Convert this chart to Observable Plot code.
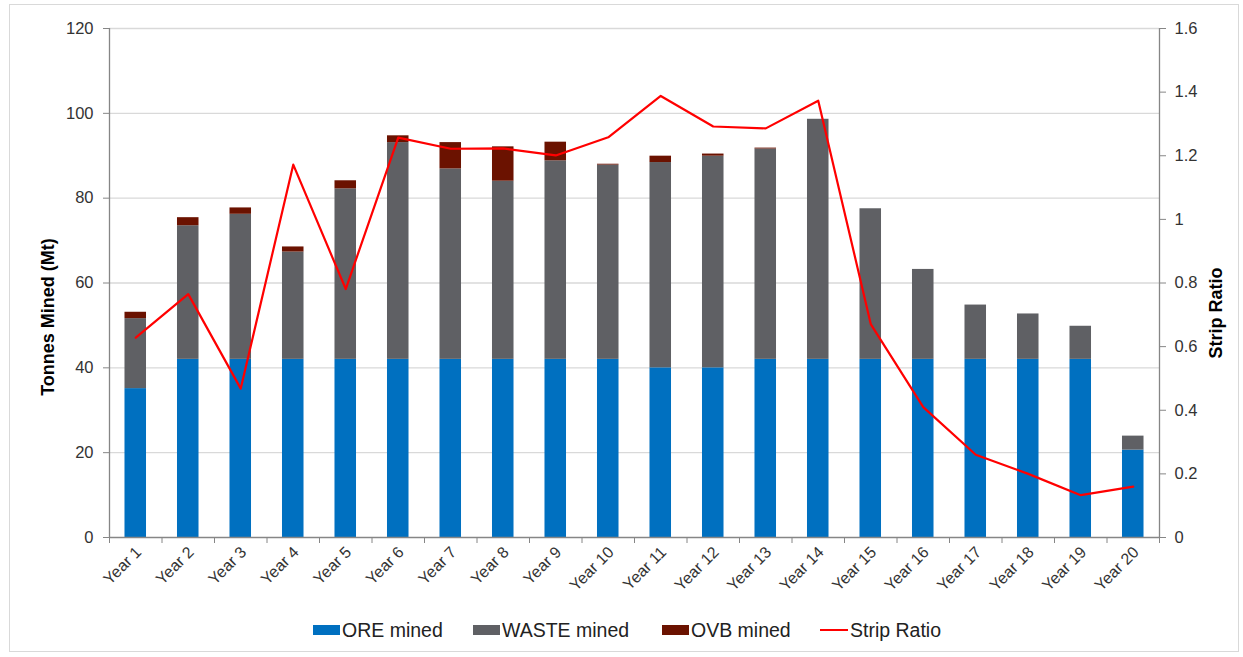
<!DOCTYPE html>
<html>
<head>
<meta charset="utf-8">
<script src="https://cdn.jsdelivr.net/npm/d3@7"></script>
<script src="https://cdn.jsdelivr.net/npm/@observablehq/plot@0.6"></script>
<style>
  html, body { margin: 0; padding: 0; background: #fff; }
  body { font-family: "Liberation Sans", Arial, sans-serif; }
  #wrap { position: relative; width: 1243px; height: 657px; overflow: hidden; }
  #border { position: absolute; left: 9px; top: 4px; width: 1230px; height: 648px; border: 1.5px solid #d9d9d9; box-sizing: border-box; }
  #chart { position: absolute; left: 0; top: 0; }
  .ytitle { position: absolute; font-weight: bold; font-size: 18px; color: #000; white-space: nowrap; transform: translate(-50%, -50%) rotate(-90deg); }
  .leg { position: absolute; top: 619px; font-size: 19.5px; color: #222; white-space: nowrap; display: flex; align-items: center; height: 22px; }
  .sw { display: inline-block; width: 27px; height: 10px; margin-right: 2px; }
  .ln { display: inline-block; width: 28px; height: 2px; margin-right: 2px; background: #ff0000; }
</style>
</head>
<body>
<div id="wrap">
  <div id="border"></div>
  <div id="chart"></div>
  <div class="ytitle" style="left:48px; top:317px;">Tonnes Mined (Mt)</div>
  <div class="ytitle" style="left:1216px; top:313px;">Strip Ratio</div>
  <div id="legend"></div>
</div>
<script>
const years = ["Year 1","Year 2","Year 3","Year 4","Year 5","Year 6","Year 7","Year 8","Year 9","Year 10",
               "Year 11","Year 12","Year 13","Year 14","Year 15","Year 16","Year 17","Year 18","Year 19","Year 20"];
const oreMined   = [35.1, 42, 42, 42, 42, 42, 42, 42, 42, 42, 40, 40, 42, 42, 42, 42, 42, 42, 42, 20.6];
const wasteMined = [16.5, 31.5, 34.2, 25.3, 40.2, 51.1, 44.9, 42.0, 46.8, 45.8, 48.4, 49.9, 49.6, 56.6, 35.5, 21.2, 12.8, 10.7, 7.8, 3.3];
const ovbMined   = [1.5, 1.9, 1.5, 1.2, 1.9, 1.6, 6.2, 8.1, 4.4, 0.2, 1.5, 0.5, 0.2, 0, 0, 0, 0, 0, 0, 0];
const stripRatio = [0.628, 0.765, 0.468, 1.172, 0.781, 1.257, 1.222, 1.223, 1.201, 1.258, 1.388, 1.292, 1.286, 1.373, 0.671, 0.41, 0.26, 0.20, 0.133, 0.160];

const seriesNames  = ["ORE mined", "WASTE mined", "OVB mined"];
const seriesColors = ["#0070c0", "#5f6064", "#6b1200"];
const lineName = "Strip Ratio";
const lineColor = "#ff0000";

const leftTicks = [0, 20, 40, 60, 80, 100, 120];
const rightTicks = [0, 0.2, 0.4, 0.6, 0.8, 1, 1.2, 1.4, 1.6];
const rightTickLabels = ["0", "0.2", "0.4", "0.6", "0.8", "1", "1.2", "1.4", "1.6"];

const leftMax = 120, rightMax = 1.6;
const K = leftMax / rightMax;

const seriesArrays = [oreMined, wasteMined, ovbMined];
const rows = years.flatMap((y, i) => seriesNames.map((s, j) => ({year: y, type: s, value: seriesArrays[j][i]})));
const ratioRows = years.map((y, i) => ({year: y, ratio: stripRatio[i]}));

const W = 1243, H = 600;
const mL = 109, mR = 84, mT = 28, mB = 63;
const step = (W - mL - mR) / years.length;

const axisGray = "#868686";

const chart = Plot.plot({
  width: W, height: H,
  marginLeft: mL, marginRight: mR, marginTop: mT, marginBottom: mB,
  style: {fontFamily: "'Liberation Sans', Arial, sans-serif", background: "transparent"},
  x: {domain: years, paddingInner: 0.59, paddingOuter: 0.295, round: false, label: null},
  y: {domain: [0, leftMax], label: null},
  color: {domain: seriesNames, range: seriesColors},
  marks: [
    Plot.gridY({ticks: leftTicks.filter(d => d > 0), stroke: "#d9d9d9", strokeOpacity: 1, strokeWidth: 1.3}),
    Plot.barY(rows, {x: "year", y: "value", fill: "type"}),
    Plot.ruleY([0], {stroke: axisGray, strokeWidth: 1.3}),
    Plot.ruleX([years[0]], {x: d => d, dx: -step / 2, y1: 0, y2: leftMax, stroke: axisGray, strokeWidth: 1.3}),
    Plot.ruleX([years[years.length - 1]], {x: d => d, dx: step / 2, y1: 0, y2: leftMax, stroke: axisGray, strokeWidth: 1.3}),
    Plot.ruleX(years, {x: d => d, dx: -step / 2, y1: 0, y2: 0, insetBottom: -6, stroke: axisGray}),
    Plot.ruleX([years[years.length - 1]], {x: d => d, dx: step / 2, y1: 0, y2: 0, insetBottom: -6, stroke: axisGray}),
    Plot.line(ratioRows, {x: "year", y: d => d.ratio * K, stroke: lineColor, strokeWidth: 2.2}),
    Plot.axisY({ticks: leftTicks, tickSize: 6, tickPadding: 10, fontSize: 16.5, stroke: axisGray, fill: "#333", label: null}),
    Plot.axisY({anchor: "right", ticks: rightTicks.map(v => v * K), tickFormat: d => rightTickLabels[rightTicks.findIndex(v => Math.abs(v * K - d) < 1e-6)],
      tickSize: 6, tickPadding: 9, fontSize: 16.5, stroke: axisGray, fill: "#333", label: null}),
    Plot.axisX({tickSize: 0, tickRotate: -45, tickPadding: 12, dx: 3, fontSize: 16, fill: "#333", label: null})
  ]
});
document.getElementById("chart").appendChild(chart);

// legend
const legend = document.getElementById("legend");
const legendX = [313, 473, 662, 820];
seriesNames.forEach((s, i) => {
  const d = document.createElement("div");
  d.className = "leg";
  d.style.left = legendX[i] + "px";
  d.innerHTML = `<span class="sw" style="background:${seriesColors[i]}"></span><span>${s}</span>`;
  legend.appendChild(d);
});
const dl = document.createElement("div");
dl.className = "leg";
dl.style.left = legendX[3] + "px";
dl.innerHTML = `<span class="ln"></span><span>${lineName}</span>`;
legend.appendChild(dl);
</script>
</body>
</html>
